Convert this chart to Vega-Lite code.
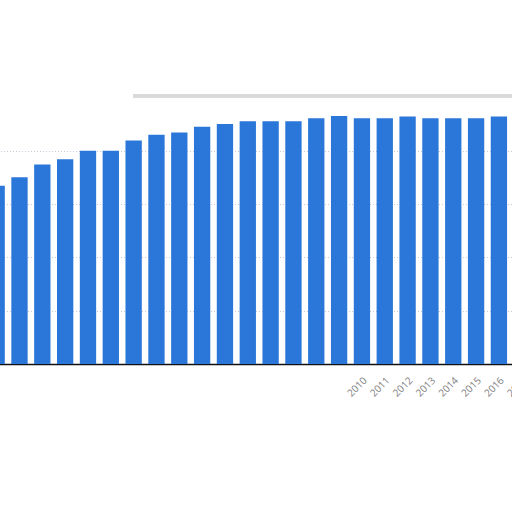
{
  "$schema": "https://vega.github.io/schema/vega-lite/v6.json",
  "autosize": "none",
  "width": 512,
  "height": 364,
  "padding": {"left": 0, "top": 0, "right": 0, "bottom": 148},
  "background": "white",
  "data": {
    "values": [
      {"year": 1994, "value": 334},
      {"year": 1995, "value": 350},
      {"year": 1996, "value": 374},
      {"year": 1997, "value": 384},
      {"year": 1998, "value": 400},
      {"year": 1999, "value": 400},
      {"year": 2000, "value": 419},
      {"year": 2001, "value": 430},
      {"year": 2002, "value": 434},
      {"year": 2003, "value": 445},
      {"year": 2004, "value": 450},
      {"year": 2005, "value": 455},
      {"year": 2006, "value": 455},
      {"year": 2007, "value": 455},
      {"year": 2008, "value": 461},
      {"year": 2009, "value": 465},
      {"year": 2010, "value": 461},
      {"year": 2011, "value": 461},
      {"year": 2012, "value": 464},
      {"year": 2013, "value": 461},
      {"year": 2014, "value": 461},
      {"year": 2015, "value": 461},
      {"year": 2016, "value": 464}
    ]
  },
  "encoding": {
    "x": {
      "field": "year",
      "type": "ordinal",
      "scale": {
        "domain": [1994, 1995, 1996, 1997, 1998, 1999, 2000, 2001, 2002, 2003, 2004, 2005, 2006, 2007, 2008, 2009, 2010, 2011, 2012, 2013, 2014, 2015, 2016, 2017],
        "range": [-11.5, 529.9],
        "paddingInner": 0.285,
        "paddingOuter": 0
      },
      "axis": {
        "title": null,
        "ticks": false,
        "domainColor": "#111111",
        "domainWidth": 1.5,
        "labelAngle": -45,
        "labelAlign": "right",
        "labelBaseline": "top",
        "labelPadding": 11,
        "labelFont": "Open Sans",
        "labelFontSize": 10,
        "labelColor": "#808080",
        "labelOverlap": false,
        "labelExpr": "datum.value >= 2010 ? datum.label : ''"
      }
    },
    "y": {
      "field": "value",
      "type": "quantitative",
      "scale": {"domain": [0, 682.5], "nice": false, "zero": true},
      "axis": {
        "title": null,
        "labels": false,
        "ticks": false,
        "domain": false,
        "values": [100, 200, 300, 400],
        "grid": true,
        "gridColor": "#c3ccd9",
        "gridDash": [1, 2],
        "gridWidth": 1
      }
    }
  },
  "layer": [
    {
      "mark": {"type": "rule", "color": "#d9d9d9", "strokeWidth": 3},
      "encoding": {
        "x": {"datum": 2000},
        "x2": {"datum": 2017},
        "y": {"datum": 503}
      }
    },
    {
      "mark": {"type": "bar", "color": "#2b77d9"}
    }
  ],
  "config": {"view": {"stroke": null}}
}
